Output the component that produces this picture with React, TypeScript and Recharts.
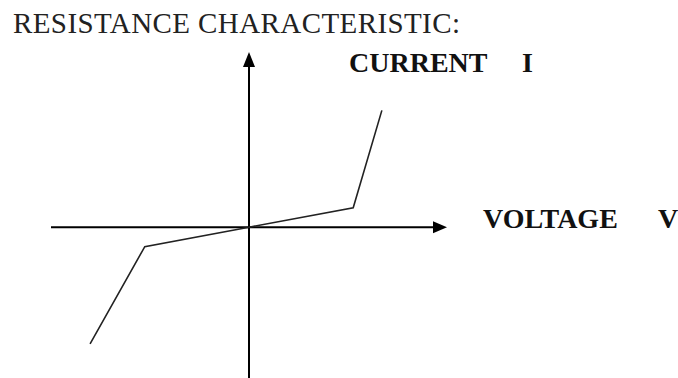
import React from "react";
import { LineChart, Line, XAxis, YAxis, ReferenceLine } from "recharts";

// voltage (V) and current (I) at the ends and knees of the curve
const voltage = [-3.05, -2, 0, 2, 2.55];
const current = [-6, -1, 0, 1, 6];

const title = "RESISTANCE CHARACTERISTIC:";
const xName = "VOLTAGE";
const xSymbol = "V";
const yName = "CURRENT";
const ySymbol = "I";

const data = voltage.map((v, i) => ({ v, i: current[i] }));

const serif = "'Liberation Serif', 'Times New Roman', serif";

const VArrow = (p: any) => {
  const top = Math.min(p.y1, p.y2);
  const bottom = Math.max(p.y1, p.y2);
  const x = p.x1;
  return (
    <g>
      <line x1={x} y1={top + 10} x2={x} y2={bottom} stroke="#000" strokeWidth={2} />
      <polygon points={`${x},${top} ${x - 6},${top + 15} ${x + 6},${top + 15}`} fill="#000" />
    </g>
  );
};

const HArrow = (p: any) => {
  const left = Math.min(p.x1, p.x2);
  const right = Math.max(p.x1, p.x2);
  const y = p.y1;
  return (
    <g>
      <line x1={left} y1={y} x2={right - 10} y2={y} stroke="#000" strokeWidth={2} />
      <polygon points={`${right},${y} ${right - 14},${y - 6} ${right - 14},${y + 6}`} fill="#000" />
    </g>
  );
};

const yLabel = (props: any) => {
  const vb = props.viewBox || {};
  return (
    <g fontFamily={serif} fontSize={28} fontWeight="bold" fill="#111">
      <text x={vb.x + 100} y={vb.y + 20}>{yName}</text>
      <text x={vb.x + 273} y={vb.y + 20}>{ySymbol}</text>
    </g>
  );
};

const xLabel = (props: any) => {
  const vb = props.viewBox || {};
  const right = vb.x + vb.width;
  return (
    <g fontFamily={serif} fontSize={28} fontWeight="bold" fill="#111">
      <text x={right + 36} y={vb.y + 1}>{xName}</text>
      <text x={right + 211} y={vb.y + 1}>{xSymbol}</text>
    </g>
  );
};

export default function App() {
  return (
    <div style={{ position: "absolute", left: 0, top: 0, background: "#fff" }}>
      <LineChart
        width={678}
        height={378}
        data={data}
        margin={{ top: 52, right: 231, bottom: 0, left: 51 }}
      >
        <text
          x={13}
          y={33}
          fontFamily={serif}
          fontSize={29}
          fill="#222"
          textLength={447}
          lengthAdjust="spacing"
        >
          {title}
        </text>
        <XAxis type="number" dataKey="v" domain={[-3.8, 3.8]} hide />
        <YAxis type="number" dataKey="i" domain={[-7.75, 9]} hide />
        <ReferenceLine y={0} shape={HArrow} label={xLabel} />
        <ReferenceLine x={0} shape={VArrow} label={yLabel} />
        <Line
          type="linear"
          dataKey="i"
          stroke="#222"
          strokeWidth={1.6}
          dot={false}
          isAnimationActive={false}
        />
      </LineChart>
    </div>
  );
}
